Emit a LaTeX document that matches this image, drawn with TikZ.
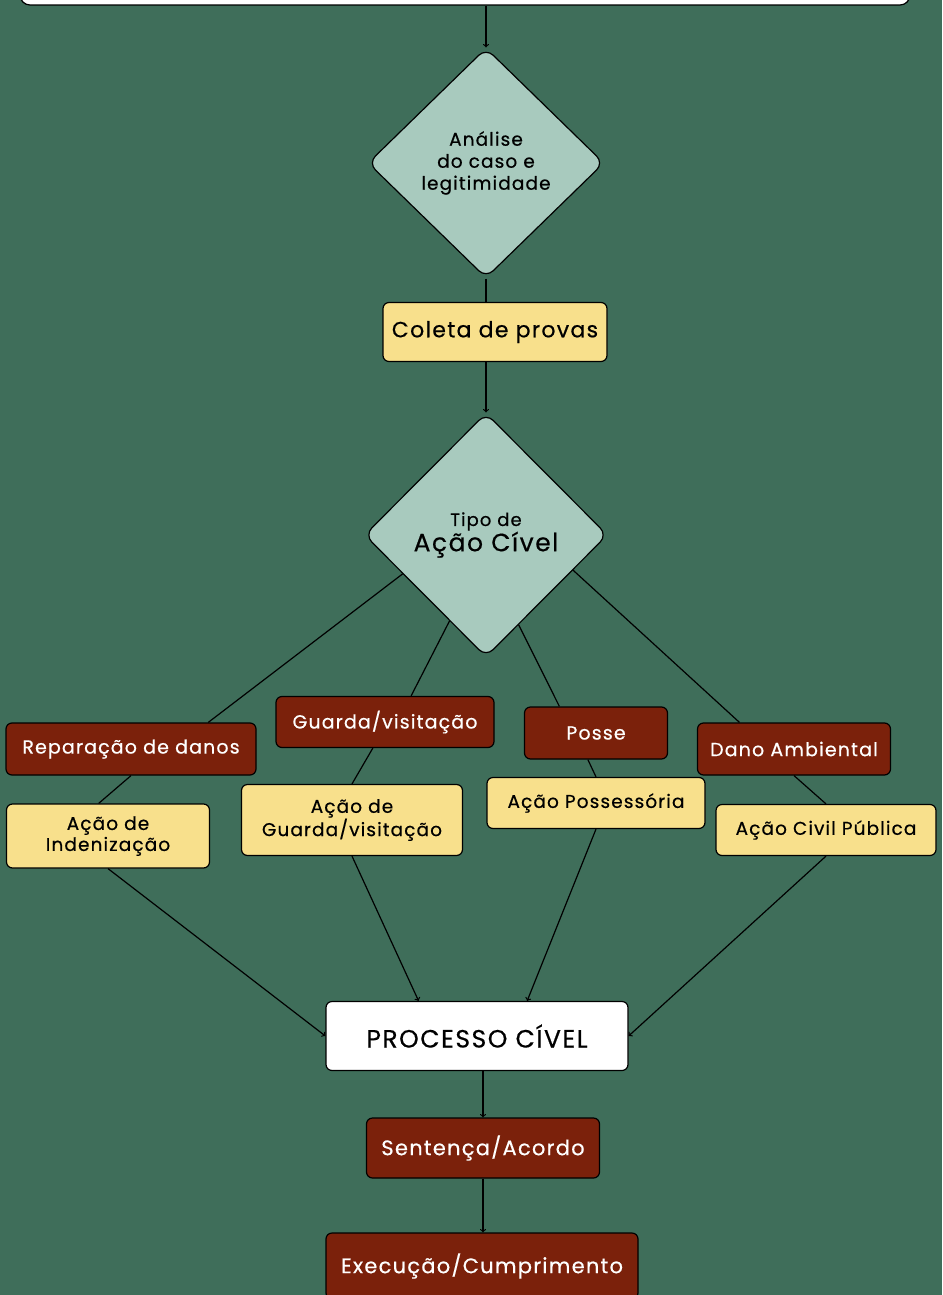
\documentclass[tikz,border=0pt]{standalone}
\usepackage{fontspec}
\setmainfont{Poppins}[LetterSpace=6, FakeBold=0.5]
\usetikzlibrary{shapes.geometric}
\definecolor{bg}{HTML}{3F6E5A}
\definecolor{rust}{HTML}{7B210B}
\definecolor{sand}{HTML}{F8E08C}
\definecolor{sage}{HTML}{A8CABE}
\tikzset{
  redbox/.style={draw=black, line width=1.2pt, fill=rust, text=white, rounded corners=6pt,
    font=\fontsize{19}{22}\selectfont, align=center, inner sep=0pt},
  yelbox/.style={draw=black, line width=1.2pt, fill=sand, text=black, rounded corners=6pt,
    font=\fontsize{18.5}{21}\selectfont, align=center, inner sep=0pt},
  dia/.style={diamond, draw=black, line width=1.2pt, fill=sage, rounded corners=10pt,
    align=center, inner sep=0pt},
  ln/.style={line width=1.2pt}
}
\begin{document}
\begin{tikzpicture}[x=1pt,y=-1pt]
\useasboundingbox[fill=bg] (0,0) rectangle (942,1295);
      % top
      \node [draw=black, line width=1.2pt, fill=white, rounded corners=10pt, minimum width=890, minimum height=60] (tb) at (465,-25) {};
      \node [dia, minimum width=236, minimum height=230, font=\fontsize{18.5}{22}\selectfont] (a) at (486,163) {Análise\\do caso e\\legitimidade};
      \node [yelbox, minimum width=224, minimum height=59, font=\fontsize{22}{24}\selectfont] (cp) at (495,332) {Coleta de provas};
      \node [dia, minimum width=243, minimum height=244] (t) at (486,535) {{\fontsize{18}{19}\selectfont Tipo de}\\{\fontsize{25}{26}\selectfont Ação Cível}};
      % tipos
      \node [redbox, minimum width=250, minimum height=52] (rd) at (131,749) {Reparação de danos};
      \node [redbox, minimum width=218, minimum height=51] (gv) at (385,722) {Guarda/visitação};
      \node [redbox, minimum width=143, minimum height=52] (ps) at (596,733) {Posse};
      \node [redbox, minimum width=193, minimum height=52] (da) at (794,749) {Dano Ambiental};
      % acoes
      \node [yelbox, minimum width=203, minimum height=64] (ai) at (108,836) {Ação de\\Indenização};
      \node [yelbox, minimum width=221, minimum height=71] (ag) at (352,820) {Ação de\\Guarda/visitação};
      \node [yelbox, minimum width=218, minimum height=51] (ap) at (596,803) {Ação Possessória};
      \node [yelbox, minimum width=220, minimum height=51] (ac) at (826,830) {Ação Civil Pública};
      % fim
      \node [draw=black, line width=1.2pt, fill=white, rounded corners=6pt, minimum width=302, minimum height=69, inner sep=0pt, font=\fontsize{25}{28}\selectfont] (pc) at (477,1036) {PROCESSO CÍVEL};
      \node [redbox, minimum width=233, minimum height=60, font=\fontsize{21}{24}\selectfont] (sa) at (483,1148) {Sentença/Acordo};
      \node [redbox, minimum width=312, minimum height=66, font=\fontsize{21}{24}\selectfont] (ex) at (482,1266) {Execução/Cumprimento};
      \draw [->, ln] (tb.south -| a.north) -- (a.north);
      \draw [ln] (a.south) -- (a.south |- cp.north);
      \draw [->, ln] (cp.south -| t.north) -- (t.north);
      \draw [ln] (t.-155) -- (rd.19);
      \draw [ln] (t.-113) -- (gv.45);
      \draw [ln] (t.-70) -- (ps.144);
      \draw [ln] (t.-22) -- (da.154);
      \draw [ln] (rd.south) -- (ai.106);
      \draw [ln] (gv.-115) -- (ag.north);
      \draw [ln] (ps.-107) -- (ap.north);
      \draw [ln] (da.south) -- (ac.north);
      \draw [->, ln] (ai.south) -- (pc.west);
      \draw [->, ln] (ag.south) -- (pc.149);
      \draw [->, ln] (ap.south) -- (pc.35);
      \draw [->, ln] (ac.south) -- (pc.east);
      \draw [->, ln] (sa.north |- pc.south) -- (sa.north);
      \draw [->, ln] (sa.south) -- (sa.south |- ex.north);
\end{tikzpicture}
\end{document}
